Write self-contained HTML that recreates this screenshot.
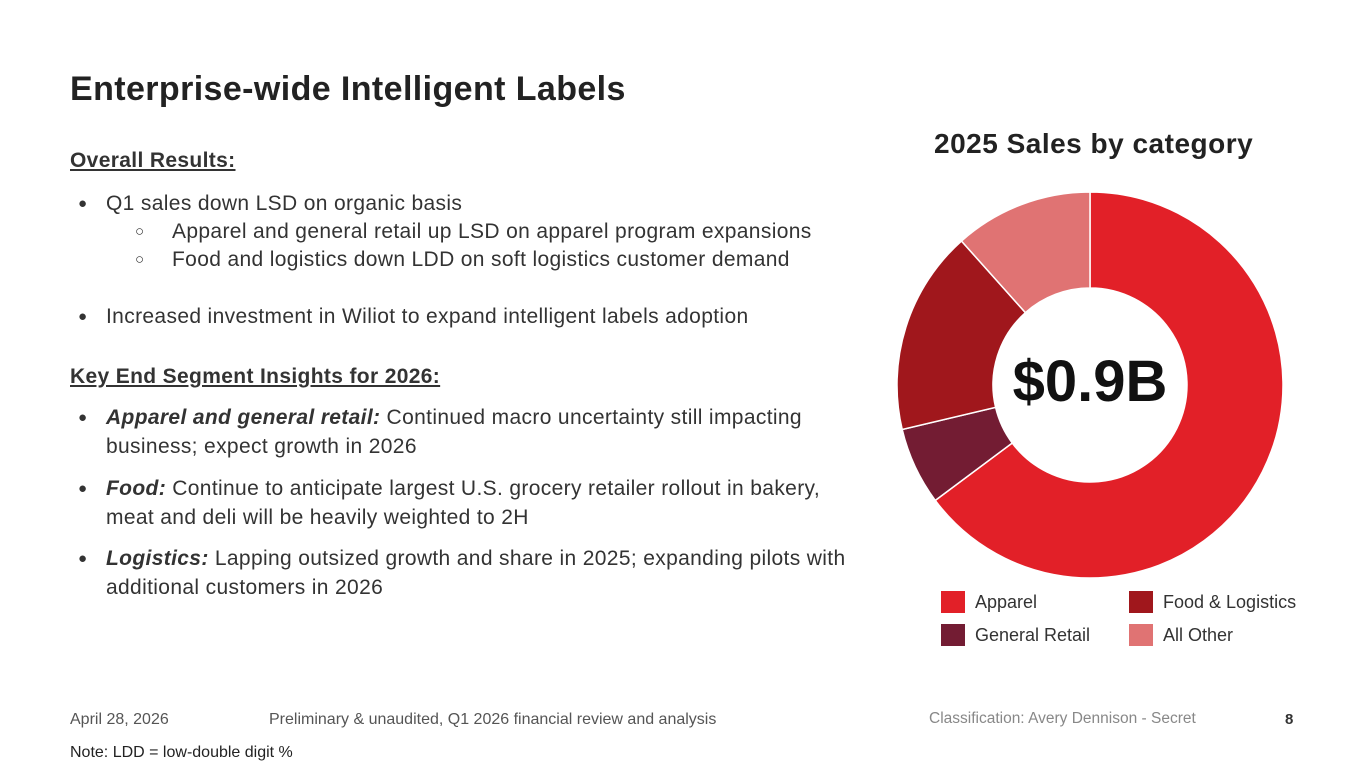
<!DOCTYPE html>
<html><head><meta charset="utf-8"><style>
body{margin:0;width:1365px;height:768px;background:#fff;font-family:"Liberation Sans",sans-serif;color:#222;position:relative;overflow:hidden}
.a{position:absolute;white-space:nowrap}
.t{font-size:21px;letter-spacing:0.35px;color:#333;line-height:29px}
.m{position:absolute;font-size:15px}
.lt{position:absolute;left:34px;top:0;line-height:22px}
.sq{position:absolute;left:0;top:0;width:24px;height:22px}
</style></head><body>
<div class="a" style="left:70px;top:70px;font-size:34px;letter-spacing:0.4px;font-weight:bold;color:#222">Enterprise-wide Intelligent Labels</div>
<div class="a t" style="left:70px;top:146px;font-weight:bold;text-decoration:underline">Overall Results:</div>
<div class="a t" style="left:106px;top:189px"><span class="m" style="left:-28px">●</span>Q1 sales down LSD on organic basis</div>
<div class="a t" style="left:172px;top:217px"><span class="m" style="left:-37px">○</span>Apparel and general retail up LSD on apparel program expansions</div>
<div class="a t" style="left:172px;top:245px"><span class="m" style="left:-37px">○</span>Food and logistics down LDD on soft logistics customer demand</div>
<div class="a t" style="left:106px;top:302px"><span class="m" style="left:-28px">●</span>Increased investment in Wiliot to expand intelligent labels adoption</div>
<div class="a t" style="left:70px;top:362px;font-weight:bold;text-decoration:underline">Key End Segment Insights for 2026:</div>
<div class="a t" style="left:106px;top:403px"><span class="m" style="left:-28px">●</span><b><i>Apparel and general retail:</i></b> Continued macro uncertainty still impacting<br>business; expect growth in 2026</div>
<div class="a t" style="left:106px;top:474px"><span class="m" style="left:-28px">●</span><b><i>Food:</i></b> Continue to anticipate largest U.S. grocery retailer rollout in bakery,<br>meat and deli will be heavily weighted to 2H</div>
<div class="a t" style="left:106px;top:544px"><span class="m" style="left:-28px">●</span><b><i>Logistics:</i></b> Lapping outsized growth and share in 2025; expanding pilots with<br>additional customers in 2026</div>
<div class="a" style="left:934px;top:128px;font-size:28px;letter-spacing:0.5px;font-weight:bold">2025 Sales by category</div>
<svg class="a" id="donut" style="left:0;top:0" width="1365" height="768"></svg>
<div class="a" style="left:990px;top:348px;width:200px;text-align:center;font-size:58px;font-weight:bold;color:#111">$0.9B</div>
<div class="a" style="left:941px;top:591px;font-size:18px;color:#333">
<div class="a" style="left:0;top:0"><span class="sq" style="background:#E22028"></span><span class="lt">Apparel</span></div>
<div class="a" style="left:188px;top:0"><span class="sq" style="background:#A0171C"></span><span class="lt">Food &amp; Logistics</span></div>
<div class="a" style="left:0;top:33px"><span class="sq" style="background:#731C33"></span><span class="lt">General Retail</span></div>
<div class="a" style="left:188px;top:33px"><span class="sq" style="background:#E07373"></span><span class="lt">All Other</span></div>
</div>
<div class="a" style="left:70px;top:711px;font-size:16px;color:#555">April 28, 2026</div>
<div class="a" style="left:269px;top:711px;font-size:16px;color:#555">Preliminary &amp; unaudited, Q1 2026 financial review and analysis</div>
<div class="a" style="left:929px;top:710px;font-size:15.5px;color:#888">Classification: Avery Dennison - Secret</div>
<div class="a" style="left:1285px;top:711px;font-size:15px;font-weight:bold;color:#333">8</div>
<div class="a" style="left:70px;top:744px;font-size:16px;color:#222">Note: LDD = low-double digit %</div>
<script>
const categories=["Apparel","General Retail","Food & Logistics","All Other"];
const values=[64.8,6.5,17.1,11.6];
const colors=["#E22028","#731C33","#A0171C","#E07373"];
const svg=document.getElementById('donut');
const cx=1090,cy=385,R=193,r=97;
const total=values.reduce((a,b)=>a+b,0);
function pt(a,rad){return [cx+rad*Math.sin(a),cy-rad*Math.cos(a)];}
let acc=0;
values.forEach((v,i)=>{
  const a0=acc/total*2*Math.PI;acc+=v;const a1=acc/total*2*Math.PI;
  const lg=(a1-a0)>Math.PI?1:0;
  const [x0,y0]=pt(a0,R),[x1,y1]=pt(a1,R),[x2,y2]=pt(a1,r),[x3,y3]=pt(a0,r);
  const p=document.createElementNS('http://www.w3.org/2000/svg','path');
  p.setAttribute('d',`M${x0},${y0}A${R},${R} 0 ${lg} 1 ${x1},${y1}L${x2},${y2}A${r},${r} 0 ${lg} 0 ${x3},${y3}Z`);
  p.setAttribute('fill',colors[i]);p.setAttribute('stroke','#fff');p.setAttribute('stroke-width','1.5');
  
  
  svg.appendChild(p);
});
</script>
</body></html>
